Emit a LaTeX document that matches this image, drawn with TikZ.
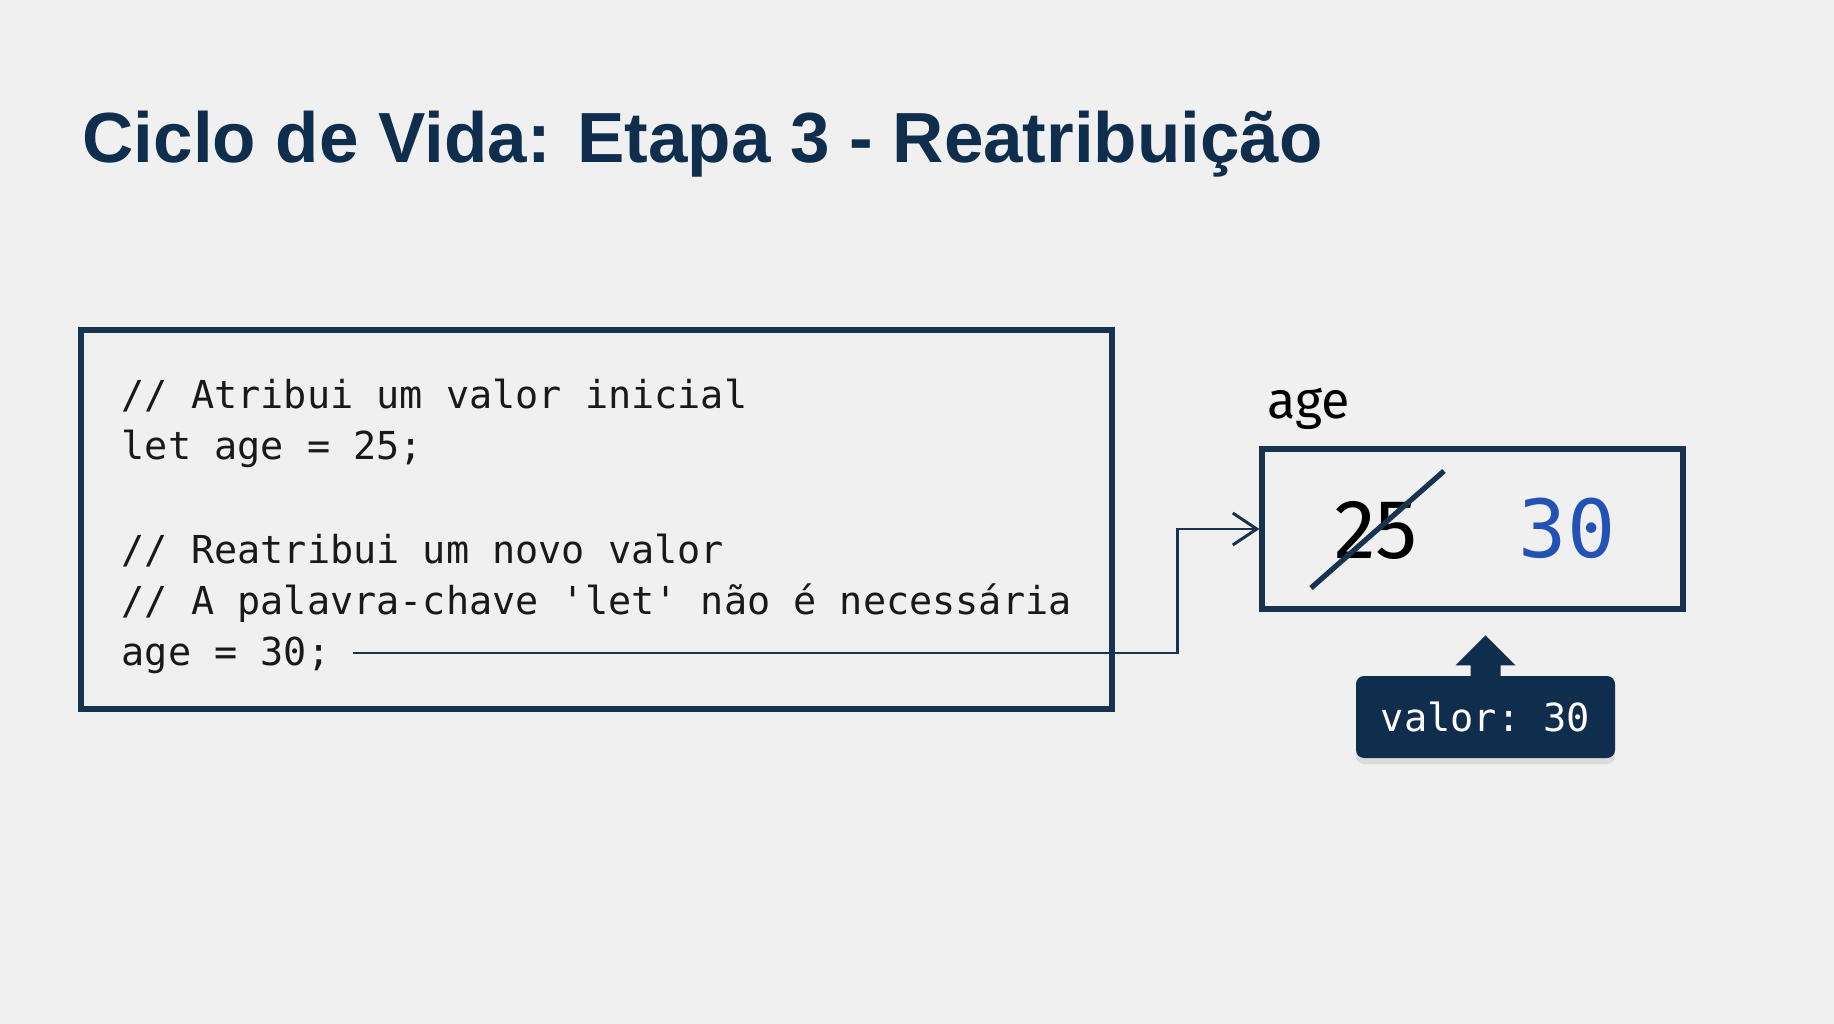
\documentclass[tikz,border=0pt]{standalone}
\usepackage{fontspec}
\setmainfont{Fira Sans}
\setmonofont{DejaVu Sans Mono}
\newfontfamily\titlefamily{Liberation Sans}
\usepackage{tikz}
\usetikzlibrary{arrows.meta,positioning,shadows}

\definecolor{bgcol}{HTML}{F0F0F0}
\definecolor{navy}{HTML}{0F2D4C}
\definecolor{framecol}{HTML}{18334F}
\definecolor{newblue}{HTML}{2352B5}

\begin{document}
\begin{tikzpicture}[x=0.1mm,y=-0.1mm]

\tikzset{
  titletext/.style={anchor=base west, inner sep=0pt, text=navy,
    font=\titlefamily\bfseries\fontsize{20.2}{24}\selectfont},
  codeline/.style={anchor=base west, inner sep=0pt, text=black!90,
    font=\ttfamily\fontsize{10.95}{14}\selectfont},
  frame/.style={draw=framecol, line width=1.45pt, minimum width=#1},
  flow/.style={draw=framecol, line width=0.85pt,
    -{Straight Barb[length=2.4mm,width=3.2mm,line width=0.85pt]}},
  strike/.style={draw=framecol, line width=1.5pt},
  tooltip/.style={fill=navy, rounded corners=0.8mm, text=white,
    minimum width=25.9mm, minimum height=8.2mm, inner sep=0pt,
    font=\ttfamily\fontsize{11}{14}\selectfont,
    drop shadow={opacity=0.18, shadow xshift=0mm, shadow yshift=-0.6mm}}
}

% background and page size
\fill[bgcol] (0,0) rectangle (1834,1024);
\useasboundingbox (0,0) rectangle (1834,1024);

\node[titletext] (title) at (82,163) {Ciclo de Vida: Etapa 3 - Reatribuição};

% code block
\node[frame=103.1mm, minimum height=37.9mm] (codebox) at (596.5,519.5) {};
\node[codeline] (l1) at (121,408) {// Atribui um valor inicial};
\node[codeline] (l2) at (121,459) {let age = 25;};
\node[codeline] (l4) at (121,563) {// Reatribui um novo valor};
\node[codeline] (l5) at (121,614) {// A palavra-chave 'let' não é necessária};
\node[codeline] (l6) at (121,665) {age = 30;};

% variable box
\node[frame=42.1mm, minimum height=16mm] (valbox) at (1472.5,529) {};
\node[anchor=base west, inner sep=0pt, font=\fontsize{14.8}{17}\selectfont]
  (name) at (1267,419) {age};
\node[anchor=base, inner sep=0pt, font=\fontsize{23.9}{28}\selectfont]
  (old) at (1376,558) {25};
\node[anchor=base, inner sep=0pt, text=newblue,
  font=\ttfamily\fontsize{22.8}{27}\selectfont] (new) at (1567,557) {30};
\draw[strike] (1311,588) -- (1444,471);

% reassignment arrow
\coordinate (src) at (353,653);
\coordinate (bend) at (1177,0);
\draw[flow] (src) -| (bend |- valbox.west) -- (valbox.west);

% value tooltip
\node[tooltip] (tip) at (1485.5,717) {valor: 30};
\fill[navy] (tip.north) ++(-15,1) -- ++(0,-11) -- ++(-15,0) -- ++(30,-30)
  -- ++(30,30) -- ++(-15,0) -- ++(0,11) -- cycle;

\end{tikzpicture}
\end{document}
